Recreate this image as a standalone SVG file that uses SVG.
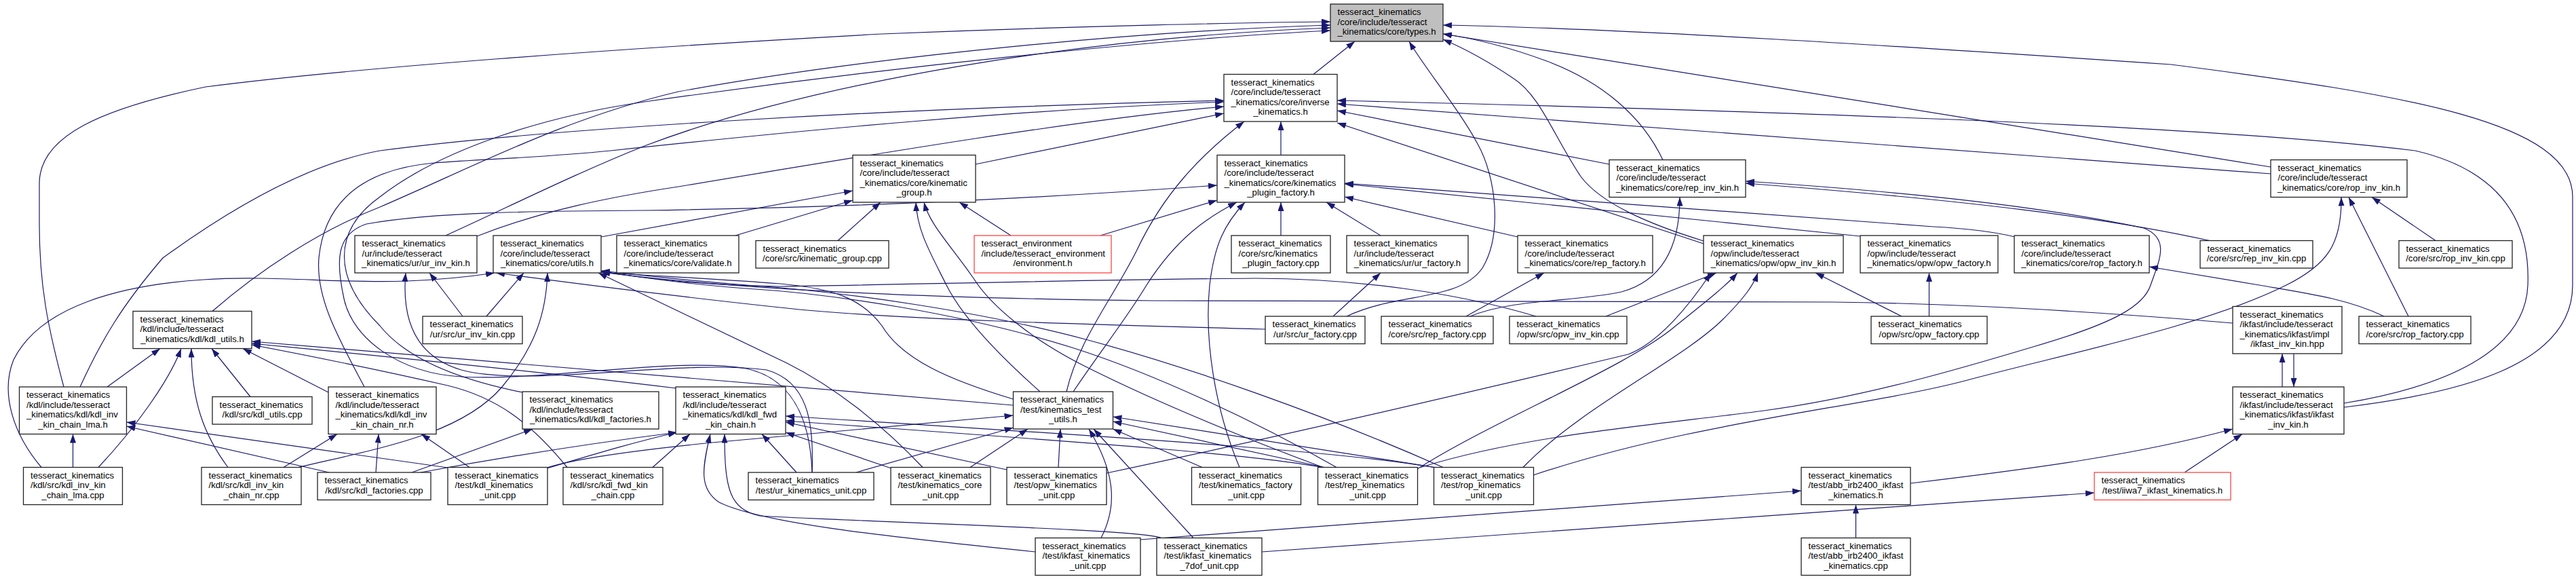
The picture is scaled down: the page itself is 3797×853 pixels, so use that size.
<svg xmlns="http://www.w3.org/2000/svg" width="3797" height="853" viewBox="0 0 3797 853">
<defs>
<style>
text{font-family:"Liberation Sans",Arial,Helvetica,sans-serif;font-size:13.2px;fill:#000}
.c{text-anchor:middle}
.n rect{fill:#fff;stroke:#222;stroke-width:1.3}
.n rect.g{fill:#bfbfbf}
.n rect.r{stroke:#f44}
.e path{fill:none;stroke:#191970;stroke-width:1.2;marker-end:url(#ah)}
</style>
<marker id="ah" viewBox="0 0 13 9" refX="13" refY="4.5" markerWidth="13" markerHeight="9" markerUnits="userSpaceOnUse" orient="auto"><path d="M0,0L13,4.5L0,9z" fill="#191970"/></marker>
</defs>
<rect x="0" y="0" width="3797" height="853" fill="#fff"/>
<g id="edges" class="e">
<path d="M94,570 C70,480 58,420 58,330 L58,270 C58,200 150,160 303,128 C520,100 900,72 1300,50 C1600,38 1850,33 1961,32"/>
<path d="M313,458.5 C380,400 470,340 560,305 C700,245 830,175 1000,135 C1300,80 1700,45 1961,37"/>
<path d="M657,347 C760,300 850,255 950,215 C1200,120 1600,55 1961,41"/>
<path d="M770,578 C680,560 600,530 560,480 C490,410 490,340 560,290 C650,220 800,172 950,150 C1300,100 1700,58 1961,45"/>
<path d="M1936,109.5 L1997,61"/>
<path d="M1985,466 C2060,430 2150,445 2185,395 C2215,345 2205,260 2178,212 C2150,160 2100,100 2077,61"/>
<path d="M2511,355 C2430,330 2360,300 2330,260 C2290,200 2270,140 2230,115 C2190,88 2160,72 2127,58"/>
<path d="M2451,235.5 C2420,170 2360,120 2280,90 C2220,68 2170,56 2127,50"/>
<path d="M3347,246 L2127,50"/>
<path d="M3455,600 C3620,580 3792,540 3792,420 L3792,290 C3792,180 3550,140 3200,95 C2800,68 2400,42 2127,37"/>
<path d="M3455,594 C3600,570 3722,520 3726,420 C3730,320 3680,250 3560,222 C3300,190 2800,168 1971,148"/>
<path d="M3347,256 L1971,153"/>
<path d="M2372,242 L1971,163"/>
<path d="M2511,359 L1971,181"/>
<path d="M1888,228.5 L1888,179"/>
<path d="M1438,242 L1804,167"/>
<path d="M118,570 C150,500 180,450 240,380 C350,300 460,240 560,222 C800,190 1300,160 1804,148"/>
<path d="M537,570 C500,500 465,440 470,380 C478,300 530,250 640,240 C720,234 800,232 900,222 C1200,190 1500,162 1804,150"/>
<path d="M703,348 C800,310 900,290 1000,275 C1300,225 1600,175 1804,157"/>
<path d="M1572,577 C1590,500 1640,440 1675,370 C1715,285 1770,228 1834,179"/>
<path d="M1235,354.5 L1298,298"/>
<path d="M1490,347 L1414,298"/>
<path d="M1084,347 L1257,295"/>
<path d="M886,349 L1257,281"/>
<path d="M1533,577 C1480,530 1420,470 1395,420 C1370,370 1352,340 1350,298"/>
<path d="M1622,347 L1794,295"/>
<path d="M1888,347 L1888,298"/>
<path d="M1197,696 C1195,640 1180,560 1100,543 C1000,525 800,562 680,555 C590,550 520,500 507,440 C495,385 495,345 540,330 C640,312 800,311 950,310 C1200,306 1450,298 1794,273"/>
<path d="M1582,577 C1620,520 1660,470 1690,420 C1735,350 1780,320 1823,298"/>
<path d="M1827,688.5 C1790,600 1775,500 1783,420 C1790,360 1805,330 1835,298"/>
<path d="M2035,347 L1955,298"/>
<path d="M2237,349 L1982,290"/>
<path d="M2742,348 L1982,271"/>
<path d="M2970,349 Q2925,338 2850,334 L1982,270"/>
<path d="M3257,354.5 C3100,320 2900,295 2573,270"/>
<path d="M2094,688.5 C2250,640 2450,625 2600,605 C2750,585 2900,540 3000,510 C3120,475 3160,450 3170,420 C3182,385 3200,352 3160,336 C3000,302 2800,282 2573,267"/>
<path d="M2167,466 C2230,440 2320,445 2390,430 C2445,415 2476,370 2476,290.5"/>
<path d="M2260,700 C2500,620 2750,600 2900,560 C3050,520 3250,480 3370,420 C3430,390 3452,360 3451,290.5"/>
<path d="M3590,354.5 L3496,290.5"/>
<path d="M3550,466 L3462,290.5"/>
<path d="M3514,466 C3460,440 3400,432 3330,420 L3168,393"/>
<path d="M2161,466 L2276,402"/>
<path d="M1965,466 L2035,402"/>
<path d="M2843.5,466 L2843.5,402"/>
<path d="M2803,466 L2676,402"/>
<path d="M2367,466 L2530,402"/>
<path d="M1631,697 C1900,640 2200,570 2400,522 C2445,505 2490,450 2522,402"/>
<path d="M2089,691 C2200,620 2400,540 2470,480 C2520,440 2545,420 2561,402"/>
<path d="M2245,688.5 C2330,600 2480,530 2540,470 C2570,440 2585,420 2591,402"/>
<path d="M682,466 L633,402"/>
<path d="M1197,696 C1200,620 1190,562 1130,545 C1000,528 780,572 680,545 C612,525 592,470 598,402"/>
<path d="M717,466 L772,402"/>
<path d="M61,688.5 C20,640 0,580 20,530 C60,450 180,420 300,412 C400,405 500,418 600,414 C650,412 690,408 729,402"/>
<path d="M1865,485 C1600,478 1300,470 1150,453 C1000,437 850,418 731,402"/>
<path d="M440,688.5 C560,660 680,640 740,570 C790,510 805,460 807,402"/>
<path d="M1360,688.5 C1300,625 1230,570 1160,535 L882,402"/>
<path d="M1493.5,588 C1400,560 1330,530 1300,480 C1270,440 1230,425 1150,418 C1050,410 950,406 886,401"/>
<path d="M2127,688.5 C1950,610 1750,540 1600,500 C1450,460 1250,430 1100,420 C1000,412 930,404 886,399"/>
<path d="M1970,688.5 C1850,620 1700,550 1580,512 C1420,462 1230,433 1100,425 C1000,418 930,406 886,400"/>
<path d="M1950,688.5 C1820,640 1700,590 1600,540 C1520,500 1460,450 1435,410 C1400,360 1370,330 1362,298"/>
<path d="M3291,476 C3100,460 2900,447 2700,445 L1700,443 C1400,440 1100,428 886,401"/>
<path d="M2264,466 C2150,432 2000,410 1850,410 C1600,412 1300,420 1150,422 C1030,420 950,410 886,400"/>
<path d="M158,570 L236,513.5"/>
<path d="M145,688.5 C200,630 250,560 267,513.5"/>
<path d="M336,688.5 C300,640 282,590 282,513.5"/>
<path d="M369,584.5 L312,513.5"/>
<path d="M484,578 L358,513.5"/>
<path d="M1493.5,597 L371,503"/>
<path d="M836,688.5 C780,620 730,585 660,568 C560,545 460,525 371,508"/>
<path d="M997,572 C800,548 600,528 371,506"/>
<path d="M107.5,688.5 L107.5,639.5"/>
<path d="M485,696 L186.5,628"/>
<path d="M660,689 L186.5,622"/>
<path d="M418,688.5 L497,639.5"/>
<path d="M554,696 L558,639.5"/>
<path d="M692,688.5 L621,639.5"/>
<path d="M607,696 L785,632"/>
<path d="M620,696 C750,672 880,652 998,637"/>
<path d="M806,690 C880,668 940,650 998,637"/>
<path d="M962,688.5 L1017,639.5"/>
<path d="M1174,696 L1123,639.5"/>
<path d="M1314,690 L1158,637"/>
<path d="M1484,692 L1158,622"/>
<path d="M1952,689 C1850,670 1650,655 1158,620"/>
<path d="M2115,689 C2000,668 1750,650 1158,613"/>
<path d="M1526,813 C1300,790 1120,770 1060,740 C1030,720 1035,690 1047,639.5"/>
<path d="M1712,792.5 C1680,780 1300,770 1120,760 C1075,750 1068,720 1068,639.5"/>
<path d="M1430,688.5 L1515,632"/>
<path d="M1560,688.5 L1563,632"/>
<path d="M1262,696 L1493.5,630"/>
<path d="M806,689 C850,675 950,662 1050,652 L1493.5,612"/>
<path d="M1623,792.5 C1650,740 1640,690 1605,632"/>
<path d="M1759,792.5 L1612,632"/>
<path d="M1772,688.5 L1640.5,632"/>
<path d="M1952,688.5 L1640.5,621"/>
<path d="M2115,688.5 L1640.5,614"/>
<path d="M3364,570 L3364,521"/>
<path d="M3381,521 L3381,570"/>
<path d="M2816,712 C3000,690 3150,670 3291,632"/>
<path d="M3220,696 L3305,639.5"/>
<path d="M2735.5,792.5 L2735.5,743.5"/>
<path d="M1681,795 C1800,784 2200,757 2655,723"/>
<path d="M1860,813 C2200,790 2700,752 3087,726"/>
</g>
<g id="n_types" class="n"><rect class="g" x="1961" y="6" width="166" height="55"/><text x="1971.5" y="22.25">tesseract_kinematics</text><text x="1971.5" y="36.75">/core/include/tesseract</text><text class="c" x="2044" y="51.25">_kinematics/core/types.h</text></g>
<g id="n_inverse_kinematics" class="n"><rect x="1804" y="109.5" width="167" height="69.5"/><text x="1814.5" y="125.75">tesseract_kinematics</text><text x="1814.5" y="140.25">/core/include/tesseract</text><text x="1814.5" y="154.75">_kinematics/core/inverse</text><text class="c" x="1887.5" y="169.25">_kinematics.h</text></g>
<g id="n_kinematic_group" class="n"><rect x="1257" y="228.5" width="181" height="69.5"/><text x="1267.5" y="244.75">tesseract_kinematics</text><text x="1267.5" y="259.25">/core/include/tesseract</text><text x="1267.5" y="273.75">_kinematics/core/kinematic</text><text class="c" x="1347.5" y="288.25">_group.h</text></g>
<g id="n_kinematics_plugin_factory" class="n"><rect x="1794" y="228.5" width="188" height="69.5"/><text x="1804.5" y="244.75">tesseract_kinematics</text><text x="1804.5" y="259.25">/core/include/tesseract</text><text x="1804.5" y="273.75">_kinematics/core/kinematics</text><text class="c" x="1888" y="288.25">_plugin_factory.h</text></g>
<g id="n_rep_inv_kin_h" class="n"><rect x="2372" y="235.5" width="201" height="55"/><text x="2382.5" y="251.75">tesseract_kinematics</text><text x="2382.5" y="266.25">/core/include/tesseract</text><text class="c" x="2472.5" y="280.75">_kinematics/core/rep_inv_kin.h</text></g>
<g id="n_rop_inv_kin_h" class="n"><rect x="3347" y="235.5" width="201" height="55"/><text x="3357.5" y="251.75">tesseract_kinematics</text><text x="3357.5" y="266.25">/core/include/tesseract</text><text class="c" x="3447.5" y="280.75">_kinematics/core/rop_inv_kin.h</text></g>
<g id="n_ur_inv_kin_h" class="n"><rect x="523" y="347" width="180" height="55"/><text x="533.5" y="363.25">tesseract_kinematics</text><text x="533.5" y="377.75">/ur/include/tesseract</text><text class="c" x="613" y="392.25">_kinematics/ur/ur_inv_kin.h</text></g>
<g id="n_utils_h" class="n"><rect x="727" y="347" width="159" height="55"/><text x="737.5" y="363.25">tesseract_kinematics</text><text x="737.5" y="377.75">/core/include/tesseract</text><text class="c" x="806.5" y="392.25">_kinematics/core/utils.h</text></g>
<g id="n_validate_h" class="n"><rect x="909" y="347" width="180" height="55"/><text x="919.5" y="363.25">tesseract_kinematics</text><text x="919.5" y="377.75">/core/include/tesseract</text><text class="c" x="999" y="392.25">_kinematics/core/validate.h</text></g>
<g id="n_kinematic_group_cpp" class="n"><rect x="1114" y="354.5" width="196" height="40.5"/><text x="1124.5" y="370.75">tesseract_kinematics</text><text class="c" x="1212" y="385.25">/core/src/kinematic_group.cpp</text></g>
<g id="n_environment_h" class="n"><rect class="r" x="1436" y="347" width="202" height="55"/><text x="1446.5" y="363.25">tesseract_environment</text><text x="1446.5" y="377.75">/include/tesseract_environment</text><text class="c" x="1537" y="392.25">/environment.h</text></g>
<g id="n_kinematics_plugin_factory_cpp" class="n"><rect x="1815" y="347" width="146" height="55"/><text x="1825.5" y="363.25">tesseract_kinematics</text><text x="1825.5" y="377.75">/core/src/kinematics</text><text class="c" x="1888" y="392.25">_plugin_factory.cpp</text></g>
<g id="n_ur_factory_h" class="n"><rect x="1985" y="347" width="179" height="55"/><text x="1995.5" y="363.25">tesseract_kinematics</text><text x="1995.5" y="377.75">/ur/include/tesseract</text><text class="c" x="2074.5" y="392.25">_kinematics/ur/ur_factory.h</text></g>
<g id="n_rep_factory_h" class="n"><rect x="2237" y="347" width="199" height="55"/><text x="2247.5" y="363.25">tesseract_kinematics</text><text x="2247.5" y="377.75">/core/include/tesseract</text><text class="c" x="2336.5" y="392.25">_kinematics/core/rep_factory.h</text></g>
<g id="n_opw_inv_kin_h" class="n"><rect x="2511" y="347" width="206" height="55"/><text x="2521.5" y="363.25">tesseract_kinematics</text><text x="2521.5" y="377.75">/opw/include/tesseract</text><text class="c" x="2614" y="392.25">_kinematics/opw/opw_inv_kin.h</text></g>
<g id="n_opw_factory_h" class="n"><rect x="2742" y="347" width="203" height="55"/><text x="2752.5" y="363.25">tesseract_kinematics</text><text x="2752.5" y="377.75">/opw/include/tesseract</text><text class="c" x="2843.5" y="392.25">_kinematics/opw/opw_factory.h</text></g>
<g id="n_rop_factory_h" class="n"><rect x="2969" y="347" width="199" height="55"/><text x="2979.5" y="363.25">tesseract_kinematics</text><text x="2979.5" y="377.75">/core/include/tesseract</text><text class="c" x="3068.5" y="392.25">_kinematics/core/rop_factory.h</text></g>
<g id="n_rep_inv_kin_cpp" class="n"><rect x="3243" y="354.5" width="166" height="40.5"/><text x="3253.5" y="370.75">tesseract_kinematics</text><text class="c" x="3326" y="385.25">/core/src/rep_inv_kin.cpp</text></g>
<g id="n_rop_inv_kin_cpp" class="n"><rect x="3536" y="354.5" width="167" height="40.5"/><text x="3546.5" y="370.75">tesseract_kinematics</text><text class="c" x="3619.5" y="385.25">/core/src/rop_inv_kin.cpp</text></g>
<g id="n_kdl_utils_h" class="n"><rect x="196" y="458.5" width="175" height="55"/><text x="206.5" y="474.75">tesseract_kinematics</text><text x="206.5" y="489.25">/kdl/include/tesseract</text><text class="c" x="283.5" y="503.75">_kinematics/kdl/kdl_utils.h</text></g>
<g id="n_ur_inv_kin_cpp" class="n"><rect x="623" y="466" width="147" height="40.5"/><text x="633.5" y="482.25">tesseract_kinematics</text><text class="c" x="696.5" y="496.75">/ur/src/ur_inv_kin.cpp</text></g>
<g id="n_ur_factory_cpp" class="n"><rect x="1865" y="466" width="147" height="40.5"/><text x="1875.5" y="482.25">tesseract_kinematics</text><text class="c" x="1938.5" y="496.75">/ur/src/ur_factory.cpp</text></g>
<g id="n_rep_factory_cpp" class="n"><rect x="2036" y="466" width="165" height="40.5"/><text x="2046.5" y="482.25">tesseract_kinematics</text><text class="c" x="2118.5" y="496.75">/core/src/rep_factory.cpp</text></g>
<g id="n_opw_inv_kin_cpp" class="n"><rect x="2225" y="466" width="173" height="40.5"/><text x="2235.5" y="482.25">tesseract_kinematics</text><text class="c" x="2311.5" y="496.75">/opw/src/opw_inv_kin.cpp</text></g>
<g id="n_opw_factory_cpp" class="n"><rect x="2758" y="466" width="171" height="40.5"/><text x="2768.5" y="482.25">tesseract_kinematics</text><text class="c" x="2843.5" y="496.75">/opw/src/opw_factory.cpp</text></g>
<g id="n_ikfast_inv_kin_hpp" class="n"><rect x="3291" y="451.5" width="161" height="69.5"/><text x="3301.5" y="467.75">tesseract_kinematics</text><text x="3301.5" y="482.25">/ikfast/include/tesseract</text><text x="3301.5" y="496.75">_kinematics/ikfast/impl</text><text class="c" x="3371.5" y="511.25">/ikfast_inv_kin.hpp</text></g>
<g id="n_rop_factory_cpp" class="n"><rect x="3477" y="466" width="165" height="40.5"/><text x="3487.5" y="482.25">tesseract_kinematics</text><text class="c" x="3559.5" y="496.75">/core/src/rop_factory.cpp</text></g>
<g id="n_kdl_inv_kin_chain_lma_h" class="n"><rect x="28.5" y="570" width="158" height="69.5"/><text x="39" y="586.25">tesseract_kinematics</text><text x="39" y="600.75">/kdl/include/tesseract</text><text x="39" y="615.25">_kinematics/kdl/kdl_inv</text><text class="c" x="107.5" y="629.75">_kin_chain_lma.h</text></g>
<g id="n_kdl_utils_cpp" class="n"><rect x="313" y="584.5" width="147" height="40.5"/><text x="323.5" y="600.75">tesseract_kinematics</text><text class="c" x="386.5" y="615.25">/kdl/src/kdl_utils.cpp</text></g>
<g id="n_kdl_inv_kin_chain_nr_h" class="n"><rect x="484" y="570" width="159" height="69.5"/><text x="494.5" y="586.25">tesseract_kinematics</text><text x="494.5" y="600.75">/kdl/include/tesseract</text><text x="494.5" y="615.25">_kinematics/kdl/kdl_inv</text><text class="c" x="563.5" y="629.75">_kin_chain_nr.h</text></g>
<g id="n_kdl_factories_h" class="n"><rect x="770" y="577" width="201" height="55"/><text x="780.5" y="593.25">tesseract_kinematics</text><text x="780.5" y="607.75">/kdl/include/tesseract</text><text class="c" x="870.5" y="622.25">_kinematics/kdl/kdl_factories.h</text></g>
<g id="n_kdl_fwd_kin_chain_h" class="n"><rect x="996" y="570" width="162" height="69.5"/><text x="1006.5" y="586.25">tesseract_kinematics</text><text x="1006.5" y="600.75">/kdl/include/tesseract</text><text x="1006.5" y="615.25">_kinematics/kdl/kdl_fwd</text><text class="c" x="1077" y="629.75">_kin_chain.h</text></g>
<g id="n_kinematics_test_utils_h" class="n"><rect x="1493.5" y="577" width="147" height="55"/><text x="1504" y="593.25">tesseract_kinematics</text><text x="1504" y="607.75">/test/kinematics_test</text><text class="c" x="1567" y="622.25">_utils.h</text></g>
<g id="n_ikfast_inv_kin_h" class="n"><rect x="3291" y="570" width="164" height="69.5"/><text x="3301.5" y="586.25">tesseract_kinematics</text><text x="3301.5" y="600.75">/ikfast/include/tesseract</text><text x="3301.5" y="615.25">_kinematics/ikfast/ikfast</text><text class="c" x="3373" y="629.75">_inv_kin.h</text></g>
<g id="n_kdl_inv_kin_chain_lma_cpp" class="n"><rect x="34.5" y="688.5" width="146" height="55"/><text x="45" y="704.75">tesseract_kinematics</text><text x="45" y="719.25">/kdl/src/kdl_inv_kin</text><text class="c" x="107.5" y="733.75">_chain_lma.cpp</text></g>
<g id="n_kdl_inv_kin_chain_nr_cpp" class="n"><rect x="297" y="688.5" width="147" height="55"/><text x="307.5" y="704.75">tesseract_kinematics</text><text x="307.5" y="719.25">/kdl/src/kdl_inv_kin</text><text class="c" x="370.5" y="733.75">_chain_nr.cpp</text></g>
<g id="n_kdl_factories_cpp" class="n"><rect x="468" y="696" width="167" height="40.5"/><text x="478.5" y="712.25">tesseract_kinematics</text><text class="c" x="551.5" y="726.75">/kdl/src/kdl_factories.cpp</text></g>
<g id="n_kdl_kinematics_unit_cpp" class="n"><rect x="660" y="688.5" width="147" height="55"/><text x="670.5" y="704.75">tesseract_kinematics</text><text x="670.5" y="719.25">/test/kdl_kinematics</text><text class="c" x="733.5" y="733.75">_unit.cpp</text></g>
<g id="n_kdl_fwd_kin_chain_cpp" class="n"><rect x="830" y="688.5" width="147" height="55"/><text x="840.5" y="704.75">tesseract_kinematics</text><text x="840.5" y="719.25">/kdl/src/kdl_fwd_kin</text><text class="c" x="903.5" y="733.75">_chain.cpp</text></g>
<g id="n_ur_kinematics_unit_cpp" class="n"><rect x="1103" y="696" width="185" height="40.5"/><text x="1113.5" y="712.25">tesseract_kinematics</text><text class="c" x="1195.5" y="726.75">/test/ur_kinematics_unit.cpp</text></g>
<g id="n_kinematics_core_unit_cpp" class="n"><rect x="1313" y="688.5" width="147" height="55"/><text x="1323.5" y="704.75">tesseract_kinematics</text><text x="1323.5" y="719.25">/test/kinematics_core</text><text class="c" x="1386.5" y="733.75">_unit.cpp</text></g>
<g id="n_opw_kinematics_unit_cpp" class="n"><rect x="1484" y="688.5" width="147" height="55"/><text x="1494.5" y="704.75">tesseract_kinematics</text><text x="1494.5" y="719.25">/test/opw_kinematics</text><text class="c" x="1557.5" y="733.75">_unit.cpp</text></g>
<g id="n_kinematics_factory_unit_cpp" class="n"><rect x="1756.5" y="688.5" width="161" height="55"/><text x="1767" y="704.75">tesseract_kinematics</text><text x="1767" y="719.25">/test/kinematics_factory</text><text class="c" x="1837" y="733.75">_unit.cpp</text></g>
<g id="n_rep_kinematics_unit_cpp" class="n"><rect x="1942.5" y="688.5" width="147" height="55"/><text x="1953" y="704.75">tesseract_kinematics</text><text x="1953" y="719.25">/test/rep_kinematics</text><text class="c" x="2016" y="733.75">_unit.cpp</text></g>
<g id="n_rop_kinematics_unit_cpp" class="n"><rect x="2113.5" y="688.5" width="147" height="55"/><text x="2124" y="704.75">tesseract_kinematics</text><text x="2124" y="719.25">/test/rop_kinematics</text><text class="c" x="2187" y="733.75">_unit.cpp</text></g>
<g id="n_abb_irb2400_ikfast_kinematics_h" class="n"><rect x="2655" y="688.5" width="161" height="55"/><text x="2665.5" y="704.75">tesseract_kinematics</text><text x="2665.5" y="719.25">/test/abb_irb2400_ikfast</text><text class="c" x="2735.5" y="733.75">_kinematics.h</text></g>
<g id="n_iiwa7_ikfast_kinematics_h" class="n"><rect class="r" x="3087" y="696" width="201" height="40.5"/><text x="3097.5" y="712.25">tesseract_kinematics</text><text class="c" x="3187.5" y="726.75">/test/iiwa7_ikfast_kinematics.h</text></g>
<g id="n_ikfast_kinematics_unit_cpp" class="n"><rect x="1526" y="792.5" width="155" height="55"/><text x="1536.5" y="808.75">tesseract_kinematics</text><text x="1536.5" y="823.25">/test/ikfast_kinematics</text><text class="c" x="1603.5" y="837.75">_unit.cpp</text></g>
<g id="n_ikfast_kinematics_7dof_unit_cpp" class="n"><rect x="1705" y="792.5" width="155" height="55"/><text x="1715.5" y="808.75">tesseract_kinematics</text><text x="1715.5" y="823.25">/test/ikfast_kinematics</text><text class="c" x="1782.5" y="837.75">_7dof_unit.cpp</text></g>
<g id="n_abb_irb2400_ikfast_kinematics_cpp" class="n"><rect x="2655" y="792.5" width="161" height="55"/><text x="2665.5" y="808.75">tesseract_kinematics</text><text x="2665.5" y="823.25">/test/abb_irb2400_ikfast</text><text class="c" x="2735.5" y="837.75">_kinematics.cpp</text></g>
</svg>
